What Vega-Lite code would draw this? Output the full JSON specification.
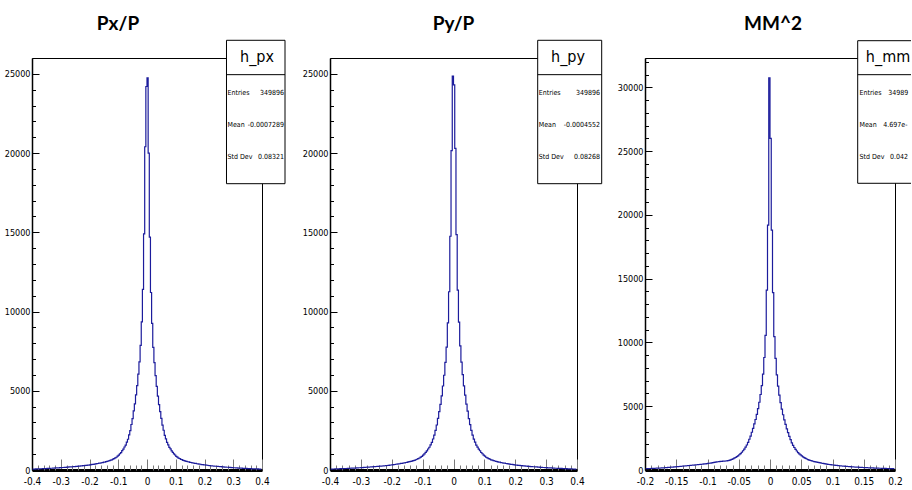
{
"$schema": "https://vega.github.io/schema/vega-lite/v6.json",
"padding": {"left": 3, "top": 14, "right": 0, "bottom": 0},
"background": "white",
"config": {
 "view": {"stroke": "black", "strokeWidth": 1},
 "axis": {"grid": false, "labelFont": "DejaVu Sans Condensed, sans-serif", "labelColor": "black", "domainColor": "black", "tickColor": "black", "labelFontSize": 9, "labelFlush": false, "labelOverlap": false, "labelBound": false},
 "title": {"font": "Lato", "fontSize": 19, "fontWeight": "bold", "color": "black", "frame": "group", "anchor": "middle", "offset": 6, "baseline": "alphabetic"}
},
"datasets": {
"px": [{"x":-0.398,"n":54},{"x":-0.394,"n":61},{"x":-0.39,"n":60},{"x":-0.386,"n":67},{"x":-0.382,"n":66},{"x":-0.378,"n":73},{"x":-0.374,"n":72},{"x":-0.37,"n":79},{"x":-0.366,"n":78},{"x":-0.362,"n":86},{"x":-0.358,"n":85},{"x":-0.354,"n":92},{"x":-0.35,"n":93},{"x":-0.346,"n":99},{"x":-0.342,"n":102},{"x":-0.338,"n":104},{"x":-0.334,"n":111},{"x":-0.33,"n":112},{"x":-0.326,"n":119},{"x":-0.322,"n":120},{"x":-0.318,"n":128},{"x":-0.314,"n":129},{"x":-0.31,"n":137},{"x":-0.306,"n":139},{"x":-0.302,"n":147},{"x":-0.298,"n":149},{"x":-0.294,"n":157},{"x":-0.29,"n":159},{"x":-0.286,"n":168},{"x":-0.282,"n":170},{"x":-0.278,"n":179},{"x":-0.274,"n":182},{"x":-0.27,"n":191},{"x":-0.266,"n":193},{"x":-0.262,"n":203},{"x":-0.258,"n":206},{"x":-0.254,"n":215},{"x":-0.25,"n":219},{"x":-0.246,"n":228},{"x":-0.242,"n":231},{"x":-0.238,"n":243},{"x":-0.234,"n":245},{"x":-0.23,"n":257},{"x":-0.226,"n":260},{"x":-0.222,"n":273},{"x":-0.218,"n":276},{"x":-0.214,"n":290},{"x":-0.21,"n":294},{"x":-0.206,"n":308},{"x":-0.202,"n":313},{"x":-0.198,"n":329},{"x":-0.194,"n":335},{"x":-0.19,"n":351},{"x":-0.186,"n":358},{"x":-0.182,"n":375},{"x":-0.178,"n":383},{"x":-0.174,"n":401},{"x":-0.17,"n":409},{"x":-0.166,"n":428},{"x":-0.162,"n":437},{"x":-0.158,"n":458},{"x":-0.154,"n":468},{"x":-0.15,"n":491},{"x":-0.146,"n":502},{"x":-0.142,"n":528},{"x":-0.138,"n":541},{"x":-0.134,"n":569},{"x":-0.13,"n":586},{"x":-0.126,"n":619},{"x":-0.122,"n":640},{"x":-0.118,"n":684},{"x":-0.114,"n":716},{"x":-0.11,"n":765},{"x":-0.106,"n":805},{"x":-0.102,"n":876},{"x":-0.098,"n":933},{"x":-0.094,"n":1027},{"x":-0.09,"n":1102},{"x":-0.086,"n":1218},{"x":-0.082,"n":1312},{"x":-0.078,"n":1450},{"x":-0.074,"n":1571},{"x":-0.07,"n":1762},{"x":-0.066,"n":1940},{"x":-0.062,"n":2215},{"x":-0.058,"n":2490},{"x":-0.054,"n":2870},{"x":-0.05,"n":3240},{"x":-0.046,"n":3730},{"x":-0.042,"n":4170},{"x":-0.038,"n":4740},{"x":-0.034,"n":5320},{"x":-0.03,"n":6050},{"x":-0.026,"n":6820},{"x":-0.022,"n":7870},{"x":-0.018,"n":9350},{"x":-0.014,"n":11400},{"x":-0.01,"n":14900},{"x":-0.006,"n":20400},{"x":-0.002,"n":24200},
{"x":0.002,"n":24750},{"x":0.006,"n":20000},{"x":0.01,"n":14700},{"x":0.014,"n":11200},{"x":0.018,"n":9250},{"x":0.022,"n":7740},{"x":0.026,"n":6780},{"x":0.03,"n":5950},{"x":0.034,"n":5280},{"x":0.038,"n":4660},{"x":0.042,"n":4130},{"x":0.046,"n":3680},{"x":0.05,"n":3260},{"x":0.054,"n":2830},{"x":0.058,"n":2510},{"x":0.062,"n":2190},{"x":0.066,"n":1960},{"x":0.07,"n":1740},{"x":0.074,"n":1590},{"x":0.078,"n":1430},{"x":0.082,"n":1328},{"x":0.086,"n":1204},{"x":0.09,"n":1117},{"x":0.094,"n":1013},{"x":0.098,"n":946},{"x":0.102,"n":864},{"x":0.106,"n":816},{"x":0.11,"n":754},{"x":0.114,"n":726},{"x":0.118,"n":675},{"x":0.122,"n":651},{"x":0.126,"n":610},{"x":0.13,"n":594},{"x":0.134,"n":561},{"x":0.138,"n":549},{"x":0.142,"n":521},{"x":0.146,"n":508},{"x":0.15,"n":485},{"x":0.154,"n":473},{"x":0.158,"n":452},{"x":0.162,"n":443},{"x":0.166,"n":422},{"x":0.17,"n":415},{"x":0.174,"n":395},{"x":0.178,"n":388},{"x":0.182,"n":369},{"x":0.186,"n":363},{"x":0.19,"n":345},{"x":0.194,"n":340},{"x":0.198,"n":323},{"x":0.202,"n":318},{"x":0.206,"n":302},{"x":0.21,"n":299},{"x":0.214,"n":284},{"x":0.218,"n":281},{"x":0.222,"n":267},{"x":0.226,"n":265},{"x":0.23,"n":251},{"x":0.234,"n":250},{"x":0.238,"n":237},{"x":0.242,"n":236},{"x":0.246,"n":223},{"x":0.25,"n":222},{"x":0.254,"n":210},{"x":0.258,"n":209},{"x":0.262,"n":198},{"x":0.266,"n":197},{"x":0.27,"n":186},{"x":0.274,"n":185},{"x":0.278,"n":174},{"x":0.282,"n":173},{"x":0.286,"n":163},{"x":0.29,"n":162},{"x":0.294,"n":152},{"x":0.298,"n":152},{"x":0.302,"n":142},{"x":0.306,"n":142},{"x":0.31,"n":132},{"x":0.314,"n":132},{"x":0.318,"n":123},{"x":0.322,"n":123},{"x":0.326,"n":114},{"x":0.33,"n":115},{"x":0.334,"n":106},{"x":0.338,"n":107},{"x":0.342,"n":98},{"x":0.346,"n":99},{"x":0.35,"n":91},{"x":0.354,"n":92},{"x":0.358,"n":84},{"x":0.362,"n":86},{"x":0.366,"n":77},{"x":0.37,"n":79},{"x":0.374,"n":71},{"x":0.378,"n":73},{"x":0.382,"n":65},{"x":0.386,"n":67},{"x":0.39,"n":59},{"x":0.394,"n":61},{"x":0.398,"n":53}],
"py": [{"x":-0.398,"n":57},{"x":-0.394,"n":58},{"x":-0.39,"n":63},{"x":-0.386,"n":64},{"x":-0.382,"n":70},{"x":-0.378,"n":70},{"x":-0.374,"n":76},{"x":-0.37,"n":76},{"x":-0.366,"n":83},{"x":-0.362,"n":82},{"x":-0.358,"n":89},{"x":-0.354,"n":89},{"x":-0.35,"n":96},{"x":-0.346,"n":96},{"x":-0.342,"n":103},{"x":-0.338,"n":104},{"x":-0.334,"n":110},{"x":-0.33,"n":114},{"x":-0.326,"n":116},{"x":-0.322,"n":123},{"x":-0.318,"n":124},{"x":-0.314,"n":132},{"x":-0.31,"n":133},{"x":-0.306,"n":142},{"x":-0.302,"n":143},{"x":-0.298,"n":152},{"x":-0.294,"n":154},{"x":-0.29,"n":162},{"x":-0.286,"n":165},{"x":-0.282,"n":173},{"x":-0.278,"n":176},{"x":-0.274,"n":185},{"x":-0.27,"n":188},{"x":-0.266,"n":197},{"x":-0.262,"n":200},{"x":-0.258,"n":209},{"x":-0.254,"n":212},{"x":-0.25,"n":222},{"x":-0.246,"n":225},{"x":-0.242,"n":235},{"x":-0.238,"n":239},{"x":-0.234,"n":249},{"x":-0.23,"n":253},{"x":-0.226,"n":264},{"x":-0.222,"n":268},{"x":-0.218,"n":280},{"x":-0.214,"n":285},{"x":-0.21,"n":298},{"x":-0.206,"n":303},{"x":-0.202,"n":317},{"x":-0.198,"n":323},{"x":-0.194,"n":339},{"x":-0.19,"n":346},{"x":-0.186,"n":362},{"x":-0.182,"n":370},{"x":-0.178,"n":387},{"x":-0.174,"n":396},{"x":-0.17,"n":414},{"x":-0.166,"n":423},{"x":-0.162,"n":442},{"x":-0.158,"n":453},{"x":-0.154,"n":472},{"x":-0.15,"n":486},{"x":-0.146,"n":507},{"x":-0.142,"n":523},{"x":-0.138,"n":547},{"x":-0.134,"n":563},{"x":-0.13,"n":592},{"x":-0.126,"n":612},{"x":-0.122,"n":648},{"x":-0.118,"n":677},{"x":-0.114,"n":723},{"x":-0.11,"n":757},{"x":-0.106,"n":813},{"x":-0.102,"n":866},{"x":-0.098,"n":944},{"x":-0.094,"n":1015},{"x":-0.09,"n":1114},{"x":-0.086,"n":1206},{"x":-0.082,"n":1325},{"x":-0.078,"n":1435},{"x":-0.074,"n":1585},{"x":-0.07,"n":1745},{"x":-0.066,"n":1955},{"x":-0.062,"n":2195},{"x":-0.058,"n":2505},{"x":-0.054,"n":2840},{"x":-0.05,"n":3255},{"x":-0.046,"n":3690},{"x":-0.042,"n":4140},{"x":-0.038,"n":4680},{"x":-0.034,"n":5300},{"x":-0.03,"n":5980},{"x":-0.026,"n":6790},{"x":-0.022,"n":7760},{"x":-0.018,"n":9280},{"x":-0.014,"n":11250},{"x":-0.01,"n":14750},{"x":-0.006,"n":20150},{"x":-0.002,"n":24850},
{"x":0.002,"n":24300},{"x":0.006,"n":20300},{"x":0.01,"n":14850},{"x":0.014,"n":11350},{"x":0.018,"n":9330},{"x":0.022,"n":7830},{"x":0.026,"n":6810},{"x":0.03,"n":6020},{"x":0.034,"n":5310},{"x":0.038,"n":4720},{"x":0.042,"n":4160},{"x":0.046,"n":3710},{"x":0.05,"n":3245},{"x":0.054,"n":2860},{"x":0.058,"n":2495},{"x":0.062,"n":2205},{"x":0.066,"n":1945},{"x":0.07,"n":1755},{"x":0.074,"n":1575},{"x":0.078,"n":1445},{"x":0.082,"n":1315},{"x":0.086,"n":1215},{"x":0.09,"n":1105},{"x":0.094,"n":1025},{"x":0.098,"n":935},{"x":0.102,"n":875},{"x":0.106,"n":805},{"x":0.11,"n":765},{"x":0.114,"n":715},{"x":0.118,"n":685},{"x":0.122,"n":640},{"x":0.126,"n":620},{"x":0.13,"n":586},{"x":0.134,"n":569},{"x":0.138,"n":541},{"x":0.142,"n":529},{"x":0.146,"n":502},{"x":0.15,"n":491},{"x":0.154,"n":467},{"x":0.158,"n":458},{"x":0.162,"n":437},{"x":0.166,"n":428},{"x":0.17,"n":409},{"x":0.174,"n":401},{"x":0.178,"n":382},{"x":0.182,"n":375},{"x":0.186,"n":357},{"x":0.19,"n":351},{"x":0.194,"n":334},{"x":0.198,"n":329},{"x":0.202,"n":312},{"x":0.206,"n":308},{"x":0.21,"n":293},{"x":0.214,"n":290},{"x":0.218,"n":275},{"x":0.222,"n":273},{"x":0.226,"n":259},{"x":0.23,"n":257},{"x":0.234,"n":244},{"x":0.238,"n":243},{"x":0.242,"n":230},{"x":0.246,"n":229},{"x":0.25,"n":218},{"x":0.254,"n":216},{"x":0.258,"n":205},{"x":0.262,"n":204},{"x":0.266,"n":193},{"x":0.27,"n":192},{"x":0.274,"n":181},{"x":0.278,"n":180},{"x":0.282,"n":169},{"x":0.286,"n":169},{"x":0.29,"n":158},{"x":0.294,"n":158},{"x":0.298,"n":148},{"x":0.302,"n":148},{"x":0.306,"n":138},{"x":0.31,"n":138},{"x":0.314,"n":128},{"x":0.318,"n":129},{"x":0.322,"n":119},{"x":0.326,"n":120},{"x":0.33,"n":111},{"x":0.334,"n":112},{"x":0.338,"n":103},{"x":0.342,"n":104},{"x":0.346,"n":95},{"x":0.35,"n":97},{"x":0.354,"n":88},{"x":0.358,"n":90},{"x":0.362,"n":82},{"x":0.366,"n":83},{"x":0.37,"n":75},{"x":0.374,"n":77},{"x":0.378,"n":69},{"x":0.382,"n":70},{"x":0.386,"n":63},{"x":0.39,"n":64},{"x":0.394,"n":57},{"x":0.398,"n":58}],
"mm": [{"x":-0.199,"n":108},{"x":-0.197,"n":112},{"x":-0.195,"n":113},{"x":-0.193,"n":118},{"x":-0.191,"n":119},{"x":-0.189,"n":125},{"x":-0.187,"n":127},{"x":-0.185,"n":133},{"x":-0.183,"n":136},{"x":-0.181,"n":142},{"x":-0.179,"n":146},{"x":-0.177,"n":152},{"x":-0.175,"n":157},{"x":-0.173,"n":164},{"x":-0.171,"n":170},{"x":-0.169,"n":177},{"x":-0.167,"n":184},{"x":-0.165,"n":191},{"x":-0.163,"n":199},{"x":-0.161,"n":206},{"x":-0.159,"n":214},{"x":-0.157,"n":222},{"x":-0.155,"n":231},{"x":-0.153,"n":239},{"x":-0.151,"n":248},{"x":-0.149,"n":257},{"x":-0.147,"n":266},{"x":-0.145,"n":276},{"x":-0.143,"n":285},{"x":-0.141,"n":295},{"x":-0.139,"n":304},{"x":-0.137,"n":314},{"x":-0.135,"n":323},{"x":-0.133,"n":333},{"x":-0.131,"n":342},{"x":-0.129,"n":352},{"x":-0.127,"n":361},{"x":-0.125,"n":371},{"x":-0.123,"n":380},{"x":-0.121,"n":390},{"x":-0.119,"n":400},{"x":-0.117,"n":410},{"x":-0.115,"n":420},{"x":-0.113,"n":431},{"x":-0.111,"n":441},{"x":-0.109,"n":452},{"x":-0.107,"n":463},{"x":-0.105,"n":475},{"x":-0.103,"n":487},{"x":-0.101,"n":500},{"x":-0.099,"n":514},{"x":-0.097,"n":528},{"x":-0.095,"n":543},{"x":-0.093,"n":559},{"x":-0.091,"n":576},{"x":-0.089,"n":594},{"x":-0.087,"n":612},{"x":-0.085,"n":630},{"x":-0.083,"n":646},{"x":-0.081,"n":660},{"x":-0.079,"n":672},{"x":-0.077,"n":682},{"x":-0.075,"n":690},{"x":-0.073,"n":698},{"x":-0.071,"n":706},{"x":-0.069,"n":716},{"x":-0.067,"n":730},{"x":-0.065,"n":755},{"x":-0.063,"n":790},{"x":-0.061,"n":830},{"x":-0.059,"n":875},{"x":-0.057,"n":925},{"x":-0.055,"n":980},{"x":-0.053,"n":1045},{"x":-0.051,"n":1115},{"x":-0.049,"n":1195},{"x":-0.047,"n":1285},{"x":-0.045,"n":1390},{"x":-0.043,"n":1510},{"x":-0.041,"n":1640},{"x":-0.039,"n":1790},{"x":-0.037,"n":1960},{"x":-0.035,"n":2160},{"x":-0.033,"n":2410},{"x":-0.031,"n":2660},{"x":-0.029,"n":2960},{"x":-0.027,"n":3260},{"x":-0.025,"n":3610},{"x":-0.023,"n":3960},{"x":-0.021,"n":4360},{"x":-0.019,"n":4810},{"x":-0.017,"n":5310},{"x":-0.015,"n":5920},{"x":-0.013,"n":6620},{"x":-0.011,"n":7520},{"x":-0.009,"n":8820},{"x":-0.007,"n":10550},{"x":-0.005,"n":14100},{"x":-0.003,"n":19200},{"x":-0.001,"n":30750},
{"x":0.001,"n":26000},{"x":0.003,"n":18800},{"x":0.005,"n":13900},{"x":0.007,"n":10450},{"x":0.009,"n":8750},{"x":0.011,"n":7460},{"x":0.013,"n":6570},{"x":0.015,"n":5870},{"x":0.017,"n":5280},{"x":0.019,"n":4780},{"x":0.021,"n":4330},{"x":0.023,"n":3930},{"x":0.025,"n":3580},{"x":0.027,"n":3230},{"x":0.029,"n":2930},{"x":0.031,"n":2630},{"x":0.033,"n":2380},{"x":0.035,"n":2130},{"x":0.037,"n":1930},{"x":0.039,"n":1765},{"x":0.041,"n":1615},{"x":0.043,"n":1490},{"x":0.045,"n":1370},{"x":0.047,"n":1270},{"x":0.049,"n":1180},{"x":0.051,"n":1100},{"x":0.053,"n":1032},{"x":0.055,"n":968},{"x":0.057,"n":912},{"x":0.059,"n":864},{"x":0.061,"n":818},{"x":0.063,"n":780},{"x":0.065,"n":744},{"x":0.067,"n":716},{"x":0.069,"n":686},{"x":0.071,"n":660},{"x":0.073,"n":637},{"x":0.075,"n":611},{"x":0.077,"n":592},{"x":0.079,"n":571},{"x":0.081,"n":552},{"x":0.083,"n":531},{"x":0.085,"n":512},{"x":0.087,"n":493},{"x":0.089,"n":477},{"x":0.091,"n":460},{"x":0.093,"n":446},{"x":0.095,"n":430},{"x":0.097,"n":417},{"x":0.099,"n":403},{"x":0.101,"n":391},{"x":0.103,"n":378},{"x":0.105,"n":367},{"x":0.107,"n":355},{"x":0.109,"n":345},{"x":0.111,"n":334},{"x":0.113,"n":325},{"x":0.115,"n":314},{"x":0.117,"n":306},{"x":0.119,"n":296},{"x":0.121,"n":289},{"x":0.123,"n":280},{"x":0.125,"n":273},{"x":0.127,"n":264},{"x":0.129,"n":258},{"x":0.131,"n":250},{"x":0.133,"n":244},{"x":0.135,"n":236},{"x":0.137,"n":231},{"x":0.139,"n":224},{"x":0.141,"n":219},{"x":0.143,"n":212},{"x":0.145,"n":207},{"x":0.147,"n":201},{"x":0.149,"n":196},{"x":0.151,"n":190},{"x":0.153,"n":186},{"x":0.155,"n":180},{"x":0.157,"n":176},{"x":0.159,"n":171},{"x":0.161,"n":167},{"x":0.163,"n":162},{"x":0.165,"n":159},{"x":0.167,"n":154},{"x":0.169,"n":151},{"x":0.171,"n":146},{"x":0.173,"n":143},{"x":0.175,"n":138},{"x":0.177,"n":136},{"x":0.179,"n":131},{"x":0.181,"n":129},{"x":0.183,"n":125},{"x":0.185,"n":122},{"x":0.187,"n":118},{"x":0.189,"n":116},{"x":0.191,"n":112},{"x":0.193,"n":110},{"x":0.195,"n":106},{"x":0.197,"n":104},{"x":0.199,"n":101}]
},
"spacing": 68,
"bounds": "flush",
"hconcat": [
{
 "width": 230, "height": 412,
 "title": {"text": "Px/P", "dx": -29},
 "resolve": {"axis": {"x": "independent", "y": "independent"}},
 "layer": [
  {"data": {"name": "px"},
   "mark": {"type": "line", "interpolate": "step", "stroke": "#1c1c9c", "strokeWidth": 1.2},
   "encoding": {
    "x": {"field": "x", "type": "quantitative", "scale": {"domain": [-0.4, 0.4], "nice": false, "zero": false},
      "axis": {"orient": "bottom", "title": null, "values": [-0.4,-0.3,-0.2,-0.1,0,0.1,0.2,0.3,0.4], "format": ".1~f", "labelExpr": "replace(datum.label, '\u2212', '-')", "tickSize": -11, "tickColor": "#7a7a7a", "domainWidth": 3, "labelPadding": 17, "labelFontSize": 10}},
    "y": {"field": "n", "type": "quantitative", "scale": {"domain": [0, 26000], "nice": false, "zero": true},
      "axis": {"orient": "left", "title": null, "values": [0,5000,10000,15000,20000,25000], "format": "d", "tickSize": -7, "labelPadding": 9, "domainWidth": 1.5}}
   }},
  {"data": {"values": [{}]},
   "mark": {"type": "rect", "fill": "white", "stroke": "black", "strokeWidth": 1},
   "encoding": {
    "x": {"datum": 0.2765, "type": "quantitative", "axis": {"orient": "bottom", "title": null, "values": [-0.38,-0.36,-0.34,-0.32,-0.28,-0.26,-0.24,-0.22,-0.18,-0.16,-0.14,-0.12,-0.08,-0.06,-0.04,-0.02,0.02,0.04,0.06,0.08,0.12,0.14,0.16,0.18,0.22,0.24,0.26,0.28,0.32,0.34,0.36,0.38], "labels": false, "domain": false, "tickSize": -5, "tickColor": "#7a7a7a"}},
    "x2": {"datum": 0.48},
    "y": {"datum": 27118, "type": "quantitative", "axis": {"orient": "left", "title": null, "values": [1000,2000,3000,4000,6000,7000,8000,9000,11000,12000,13000,14000,16000,17000,18000,19000,21000,22000,23000,24000], "labels": false, "domain": false, "tickSize": -3.5}},
    "y2": {"datum": 18068}
   }},
  {"data": {"values": [{}]},
   "mark": {"type": "rule", "stroke": "black", "strokeWidth": 1},
   "encoding": {"x": {"datum": 0.2765, "type": "quantitative", "axis": null}, "x2": {"datum": 0.48}, "y": {"datum": 24948, "type": "quantitative", "axis": null}}},
  {"data": {"values": [{}]},
   "mark": {"type": "text", "font": "DejaVu Sans Condensed, sans-serif", "fontSize": 16, "align": "center", "baseline": "middle", "fill": "black"},
   "encoding": {"x": {"datum": 0.3826, "type": "quantitative", "axis": null}, "y": {"datum": 26064, "type": "quantitative", "axis": null}, "text": {"value": "h_px"}}},
  {"data": {"values": [{}]},
   "mark": {"type": "text", "font": "DejaVu Sans Condensed, sans-serif", "fontSize": 7, "align": "left", "baseline": "alphabetic", "lineHeight": 31.7, "fill": "black"},
   "encoding": {"x": {"datum": 0.28, "type": "quantitative", "axis": null}, "y": {"datum": 23634, "type": "quantitative", "axis": null}, "text": {"value": ["Entries", "Mean", "Std Dev"]}}},
  {"data": {"values": [{}]},
   "mark": {"type": "text", "font": "DejaVu Sans Condensed, sans-serif", "fontSize": 7, "align": "right", "baseline": "alphabetic", "lineHeight": 31.7, "fill": "black"},
   "encoding": {"x": {"datum": 0.4765, "type": "quantitative", "axis": null}, "y": {"datum": 23634, "type": "quantitative", "axis": null}, "text": {"value": ["349896", "-0.0007289", "0.08321"]}}}
 ]
},
{
 "width": 247, "height": 412,
 "title": {"text": "Py/P", "dx": 0},
 "resolve": {"axis": {"x": "independent", "y": "independent"}},
 "layer": [
  {"data": {"name": "py"},
   "mark": {"type": "line", "interpolate": "step", "stroke": "#1c1c9c", "strokeWidth": 1.2},
   "encoding": {
    "x": {"field": "x", "type": "quantitative", "scale": {"domain": [-0.4, 0.4], "nice": false, "zero": false},
      "axis": {"orient": "bottom", "title": null, "values": [-0.4,-0.3,-0.2,-0.1,0,0.1,0.2,0.3,0.4], "format": ".1~f", "labelExpr": "replace(datum.label, '\u2212', '-')", "tickSize": -11, "tickColor": "#7a7a7a", "domainWidth": 3, "labelPadding": 17, "labelFontSize": 10}},
    "y": {"field": "n", "type": "quantitative", "scale": {"domain": [0, 26000], "nice": false, "zero": true},
      "axis": {"orient": "left", "title": null, "values": [0,5000,10000,15000,20000,25000], "format": "d", "tickSize": -7, "labelPadding": 9, "domainWidth": 1.5}}
   }},
  {"data": {"values": [{}]},
   "mark": {"type": "rect", "fill": "white", "stroke": "black", "strokeWidth": 1},
   "encoding": {
    "x": {"datum": 0.2727, "type": "quantitative", "axis": {"orient": "bottom", "title": null, "values": [-0.38,-0.36,-0.34,-0.32,-0.28,-0.26,-0.24,-0.22,-0.18,-0.16,-0.14,-0.12,-0.08,-0.06,-0.04,-0.02,0.02,0.04,0.06,0.08,0.12,0.14,0.16,0.18,0.22,0.24,0.26,0.28,0.32,0.34,0.36,0.38], "labels": false, "domain": false, "tickSize": -5, "tickColor": "#7a7a7a"}},
    "x2": {"datum": 0.48},
    "y": {"datum": 27118, "type": "quantitative", "axis": {"orient": "left", "title": null, "values": [1000,2000,3000,4000,6000,7000,8000,9000,11000,12000,13000,14000,16000,17000,18000,19000,21000,22000,23000,24000], "labels": false, "domain": false, "tickSize": -3.5}},
    "y2": {"datum": 18068}
   }},
  {"data": {"values": [{}]},
   "mark": {"type": "rule", "stroke": "black", "strokeWidth": 1},
   "encoding": {"x": {"datum": 0.2727, "type": "quantitative", "axis": null}, "x2": {"datum": 0.48}, "y": {"datum": 24948, "type": "quantitative", "axis": null}}},
  {"data": {"values": [{}]},
   "mark": {"type": "text", "font": "DejaVu Sans Condensed, sans-serif", "fontSize": 16, "align": "center", "baseline": "middle", "fill": "black"},
   "encoding": {"x": {"datum": 0.3709, "type": "quantitative", "axis": null}, "y": {"datum": 26064, "type": "quantitative", "axis": null}, "text": {"value": "h_py"}}},
  {"data": {"values": [{}]},
   "mark": {"type": "text", "font": "DejaVu Sans Condensed, sans-serif", "fontSize": 7, "align": "left", "baseline": "alphabetic", "lineHeight": 31.7, "fill": "black"},
   "encoding": {"x": {"datum": 0.276, "type": "quantitative", "axis": null}, "y": {"datum": 23634, "type": "quantitative", "axis": null}, "text": {"value": ["Entries", "Mean", "Std Dev"]}}},
  {"data": {"values": [{}]},
   "mark": {"type": "text", "font": "DejaVu Sans Condensed, sans-serif", "fontSize": 7, "align": "right", "baseline": "alphabetic", "lineHeight": 31.7, "fill": "black"},
   "encoding": {"x": {"datum": 0.4745, "type": "quantitative", "axis": null}, "y": {"datum": 23634, "type": "quantitative", "axis": null}, "text": {"value": ["349896", "-0.0004552", "0.08268"]}}}
 ]
},
{
 "width": 250, "height": 412,
 "title": {"text": "MM^2", "dx": 3},
 "resolve": {"axis": {"x": "independent", "y": "independent"}},
 "layer": [
  {"data": {"name": "mm"},
   "mark": {"type": "line", "interpolate": "step", "stroke": "#1c1c9c", "strokeWidth": 1.2},
   "encoding": {
    "x": {"field": "x", "type": "quantitative", "scale": {"domain": [-0.2, 0.2], "nice": false, "zero": false},
      "axis": {"orient": "bottom", "title": null, "values": [-0.2,-0.15,-0.1,-0.05,0,0.05,0.1,0.15,0.2], "format": ".2~f", "labelExpr": "replace(datum.label, '\u2212', '-')", "tickSize": -11, "tickColor": "#7a7a7a", "domainWidth": 3, "labelPadding": 17, "labelFontSize": 10}},
    "y": {"field": "n", "type": "quantitative", "scale": {"domain": [0, 32300], "nice": false, "zero": true},
      "axis": {"orient": "left", "title": null, "values": [0,5000,10000,15000,20000,25000,30000], "format": "d", "tickSize": -7, "labelPadding": 9, "domainWidth": 1.5}}
   }},
  {"data": {"values": [{}]},
   "mark": {"type": "rect", "fill": "white", "strokeWidth": 0},
   "encoding": {
    "x": {"datum": 0.1403, "type": "quantitative", "axis": {"orient": "bottom", "title": null, "values": [-0.19,-0.18,-0.17,-0.16,-0.14,-0.13,-0.12,-0.11,-0.09,-0.08,-0.07,-0.06,-0.04,-0.03,-0.02,-0.01,0.01,0.02,0.03,0.04,0.06,0.07,0.08,0.09,0.11,0.12,0.13,0.14,0.16,0.17,0.18,0.19], "labels": false, "domain": false, "tickSize": -5, "tickColor": "#7a7a7a"}},
    "x2": {"datum": 0.2256},
    "y": {"datum": 33657, "type": "quantitative", "axis": {"orient": "left", "title": null, "values": [1000,2000,3000,4000,6000,7000,8000,9000,11000,12000,13000,14000,16000,17000,18000,19000,21000,22000,23000,24000,26000,27000,28000,29000,31000,32000], "labels": false, "domain": false, "tickSize": -3.5}},
    "y2": {"datum": 22477}
   }},
  {"data": {"values": [{}]},
   "mark": {"type": "rule", "stroke": "black", "strokeWidth": 1},
   "encoding": {"x": {"datum": 0.1403, "type": "quantitative", "axis": null}, "y": {"datum": 33657, "type": "quantitative", "axis": null}, "y2": {"datum": 22477}}},
  {"data": {"values": [{}]},
   "mark": {"type": "rule", "stroke": "black", "strokeWidth": 1},
   "encoding": {"x": {"datum": 0.1403, "type": "quantitative", "axis": null}, "x2": {"datum": 0.2256}, "y": {"datum": 33657, "type": "quantitative", "axis": null}}},
  {"data": {"values": [{}]},
   "mark": {"type": "rule", "stroke": "black", "strokeWidth": 1},
   "encoding": {"x": {"datum": 0.1403, "type": "quantitative", "axis": null}, "x2": {"datum": 0.2256}, "y": {"datum": 30992, "type": "quantitative", "axis": null}}},
  {"data": {"values": [{}]},
   "mark": {"type": "rule", "stroke": "black", "strokeWidth": 1},
   "encoding": {"x": {"datum": 0.1403, "type": "quantitative", "axis": null}, "x2": {"datum": 0.2256}, "y": {"datum": 22477, "type": "quantitative", "axis": null}}},
  {"data": {"values": [{}]},
   "mark": {"type": "text", "font": "DejaVu Sans Condensed, sans-serif", "fontSize": 16, "align": "center", "baseline": "middle", "fill": "black"},
   "encoding": {"x": {"datum": 0.1888, "type": "quantitative", "axis": null}, "y": {"datum": 32379, "type": "quantitative", "axis": null}, "text": {"value": "h_mm"}}},
  {"data": {"values": [{}]},
   "mark": {"type": "text", "font": "DejaVu Sans Condensed, sans-serif", "fontSize": 7, "align": "left", "baseline": "alphabetic", "lineHeight": 31.7, "fill": "black"},
   "encoding": {"x": {"datum": 0.1432, "type": "quantitative", "axis": null}, "y": {"datum": 29361, "type": "quantitative", "axis": null}, "text": {"value": ["Entries", "Mean", "Std Dev"]}}},
  {"data": {"values": [{}]},
   "mark": {"type": "text", "font": "DejaVu Sans Condensed, sans-serif", "fontSize": 7, "align": "left", "baseline": "alphabetic", "limit": 23, "ellipsis": "\u200b", "fill": "black"},
   "encoding": {"x": {"datum": 0.1893, "type": "quantitative", "axis": null}, "y": {"datum": 29361, "type": "quantitative", "axis": null}, "text": {"value": "349896"}}},
  {"data": {"values": [{}]},
   "mark": {"type": "text", "font": "DejaVu Sans Condensed, sans-serif", "fontSize": 7, "align": "left", "baseline": "alphabetic", "limit": 28, "ellipsis": "\u200b", "fill": "black"},
   "encoding": {"x": {"datum": 0.1813, "type": "quantitative", "axis": null}, "y": {"datum": 26868, "type": "quantitative", "axis": null}, "text": {"value": "4.697e-05"}}},
  {"data": {"values": [{}]},
   "mark": {"type": "text", "font": "DejaVu Sans Condensed, sans-serif", "fontSize": 7, "align": "left", "baseline": "alphabetic", "limit": 21, "ellipsis": "\u200b", "fill": "black"},
   "encoding": {"x": {"datum": 0.192, "type": "quantitative", "axis": null}, "y": {"datum": 24382, "type": "quantitative", "axis": null}, "text": {"value": "0.04215"}}}
 ]
}
]
}
